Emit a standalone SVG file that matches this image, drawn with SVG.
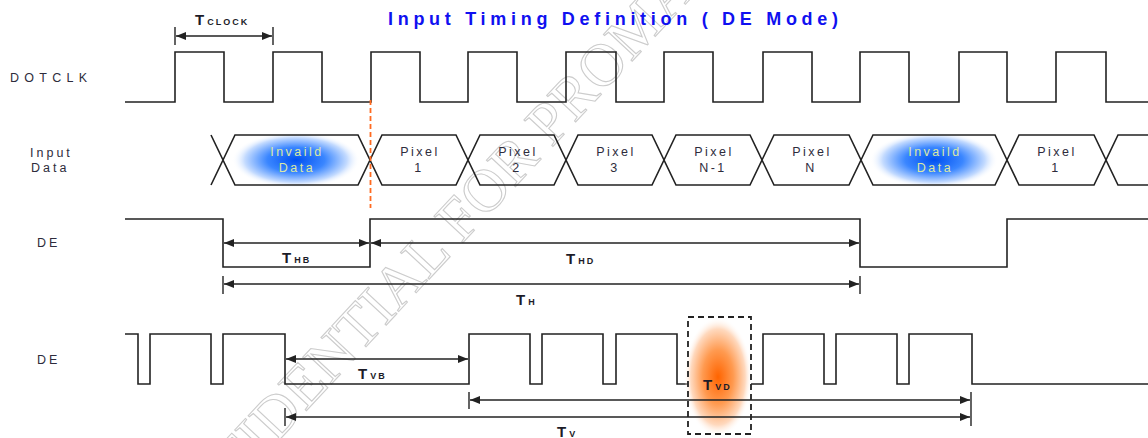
<svg xmlns="http://www.w3.org/2000/svg" width="1148" height="438" viewBox="0 0 1148 438">
<style>
.wave{fill:none;stroke:#222;stroke-width:1.6}
.dim{fill:none;stroke:#222;stroke-width:1.3}
.tick{stroke:#222;stroke-width:1.4}
.lbl{font-family:"Liberation Sans",Arial,sans-serif;font-size:12.5px;fill:#2e2c3c;letter-spacing:3px}
.cell{font-family:"Liberation Sans",Arial,sans-serif;font-size:12.5px;fill:#2e2c3c;text-anchor:middle;letter-spacing:2.5px}
.inv{font-family:"Liberation Sans",Arial,sans-serif;font-size:12.5px;fill:#dbe8a4;text-anchor:middle;letter-spacing:2.5px}
.tm{font-family:"Liberation Sans",Arial,sans-serif;font-weight:bold;fill:#1c1c28}
.tb{font-size:15px}
.ts{font-size:9px;letter-spacing:2px}
.title{font-family:"Liberation Sans",Arial,sans-serif;font-weight:bold;font-size:18px;fill:#1010f0;text-anchor:middle}
.wm{font-family:"Liberation Serif","Times New Roman",serif;font-size:60px;fill:none;stroke:#cccccc;stroke-width:1.1}
</style>
<defs>
<marker id="ah" viewBox="0 0 10 8" refX="10" refY="4" markerWidth="10" markerHeight="8" markerUnits="userSpaceOnUse" orient="auto-start-reverse">
<path d="M0,0 L10,4 L0,8 Z" fill="#222"/>
</marker>
<radialGradient id="blue" cx="0.5" cy="0.5" r="0.5">
<stop offset="0" stop-color="#0050f0"/>
<stop offset="0.45" stop-color="#3a86ff"/>
<stop offset="0.8" stop-color="#c4dbff"/>
<stop offset="1" stop-color="#ffffff" stop-opacity="0"/>
</radialGradient>
<radialGradient id="orange" cx="0.5" cy="0.5" r="0.5">
<stop offset="0" stop-color="#ff6400"/>
<stop offset="0.45" stop-color="#ff9a50"/>
<stop offset="0.8" stop-color="#ffd9be"/>
<stop offset="1" stop-color="#ffffff" stop-opacity="0"/>
</radialGradient>
</defs>
<rect width="1148" height="438" fill="#ffffff"/>
<g id="watermark">
<text class="wm" transform="translate(276,414) rotate(-47)" x="-202" y="20">CONFIDENTIAL FOR PROMATE</text>
</g>
<text id="title" class="title" x="613" y="25" textLength="450" lengthAdjust="spacing">Input Timing Definition ( DE Mode)</text>
<g id="labels">
<text class="lbl" x="10" y="82" textLength="80" lengthAdjust="spacing">DOTCLK</text>
<text class="lbl" x="30" y="157">Input</text>
<text class="lbl" x="31" y="172">Data</text>
<text class="lbl" x="37" y="247">DE</text>
<text class="lbl" x="37" y="364">DE</text>
</g>
<g id="dotclk">
<path class="wave" d="M125,102 H175 V52 H224 V102 H273 V52 H322 V102 H371 V52 H420 V102 H468 V52 H517 V102 H566 V52 H616 V102 H664 V52 H713 V102 H763 V52 H812 V102 H860 V52 H909 V102 H959 V52 H1007 V102 H1056 V52 H1106 V102 H1148"/>
</g>
<g id="input-data">
<ellipse cx="296" cy="160" rx="64" ry="28" fill="url(#blue)"/>
<ellipse cx="934" cy="160" rx="64" ry="28" fill="url(#blue)"/>
<path class="wave" d="M211,135 L223,160 L211,185
M223,160 L235,135 H358 L370,160 L358,185 H235 Z
M370,160 L382,135 H456 L468,160 L456,185 H382 Z
M468,160 L480,135 H554 L566,160 L554,185 H480 Z
M566,160 L578,135 H652 L664,160 L652,185 H578 Z
M664,160 L676,135 H750 L762,160 L750,185 H676 Z
M762,160 L774,135 H849 L861,160 L849,185 H774 Z
M861,160 L873,135 H995 L1007,160 L995,185 H873 Z
M1007,160 L1019,135 H1094 L1106,160 L1094,185 H1019 Z
M1148,135 H1118 L1106,160 L1118,185 H1148"/>
<text class="inv" x="297" y="156">Invaild</text>
<text class="inv" x="297" y="172">Data</text>
<text class="cell" x="420" y="156">Pixel</text>
<text class="cell" x="419" y="172">1</text>
<text class="cell" x="518" y="156">Pixel</text>
<text class="cell" x="517" y="172">2</text>
<text class="cell" x="616" y="156">Pixel</text>
<text class="cell" x="615" y="172">3</text>
<text class="cell" x="714" y="156">Pixel</text>
<text class="cell" x="713" y="172">N-1</text>
<text class="cell" x="812" y="156">Pixel</text>
<text class="cell" x="811" y="172">N</text>
<text class="inv" x="935" y="156">Invaild</text>
<text class="inv" x="935" y="172">Data</text>
<text class="cell" x="1057" y="156">Pixel</text>
<text class="cell" x="1056" y="172">1</text>
</g>
<g id="marker-line">
<line x1="370.5" y1="100" x2="370.5" y2="208" stroke="#ff6a20" stroke-width="1.8" stroke-dasharray="5,3"/>
</g>
<g id="de-h">
<path class="wave" d="M125,219 H223 V267 H370 V219 H860 V267 H1007 V219 H1148"/>
</g>
<g id="de-v">
<path class="wave" d="M125,334 H138 V384 H150 V334 H211 V384 H223 V334 H285 V384 H469 V334 H530 V384 H542 V334 H603 V384 H616 V334 H677 V384 H763 V334 H824 V384 H836 V334 H897 V384 H909 V334 H972 V384 H1148"/>
</g>
<g id="tvd-box">
<rect x="688" y="317" width="63" height="117" fill="#ffffff"/>
<ellipse cx="718" cy="377" rx="34" ry="60" fill="url(#orange)"/>
</g>
<g id="connectors">
<line class="tick" x1="175" y1="27" x2="175" y2="45"/>
<line class="tick" x1="273" y1="27" x2="273" y2="45"/>
<line class="dim" x1="176" y1="36" x2="272" y2="36" marker-start="url(#ah)" marker-end="url(#ah)"/>
<line class="dim" x1="224" y1="243" x2="369" y2="243" marker-start="url(#ah)" marker-end="url(#ah)"/>
<line class="dim" x1="371" y1="243" x2="859" y2="243" marker-start="url(#ah)" marker-end="url(#ah)"/>
<line class="tick" x1="223" y1="276" x2="223" y2="294"/>
<line class="tick" x1="860" y1="276" x2="860" y2="294"/>
<line class="dim" x1="224" y1="284" x2="859" y2="284" marker-start="url(#ah)" marker-end="url(#ah)"/>
<line class="dim" x1="286" y1="359" x2="468" y2="359" marker-start="url(#ah)" marker-end="url(#ah)"/>
<line class="tick" x1="469" y1="392" x2="469" y2="409"/>
<line class="tick" x1="971" y1="392" x2="971" y2="426"/>
<line class="dim" x1="470" y1="400" x2="970" y2="400" marker-start="url(#ah)" marker-end="url(#ah)"/>
<line class="tick" x1="285" y1="408" x2="285" y2="426"/>
<line class="dim" x1="286" y1="417" x2="970" y2="417" marker-start="url(#ah)" marker-end="url(#ah)"/>
</g>
<g id="tvd-border">
<rect x="688" y="317" width="63" height="117" fill="none" stroke="#222" stroke-width="1.8" stroke-dasharray="6,4"/>
</g>
<g id="dim-labels">
<text class="tm" x="195" y="25"><tspan class="tb">T</tspan><tspan class="ts" dx="3">CLOCK</tspan></text>
<text class="tm" x="282" y="263"><tspan class="tb">T</tspan><tspan class="ts" dx="3">HB</tspan></text>
<text class="tm" x="566" y="264"><tspan class="tb">T</tspan><tspan class="ts" dx="3">HD</tspan></text>
<text class="tm" x="516" y="305"><tspan class="tb">T</tspan><tspan class="ts" dx="3">H</tspan></text>
<text class="tm" x="358" y="379"><tspan class="tb">T</tspan><tspan class="ts" dx="3">VB</tspan></text>
<text class="tm" x="703" y="390"><tspan class="tb">T</tspan><tspan class="ts" dx="3">VD</tspan></text>
<text class="tm" x="557" y="437"><tspan class="tb">T</tspan><tspan class="ts" dx="3">V</tspan></text>
</g>
</svg>
